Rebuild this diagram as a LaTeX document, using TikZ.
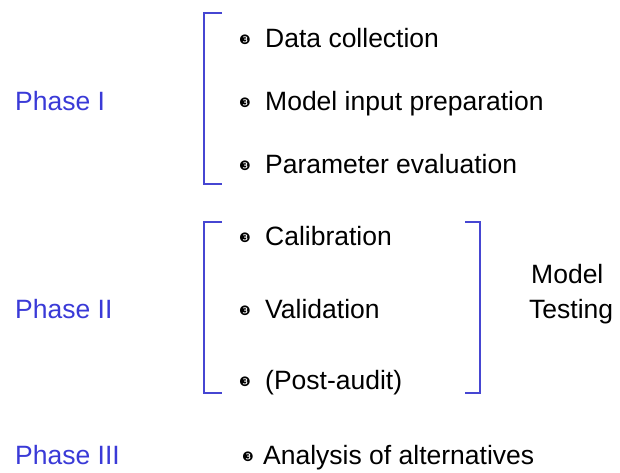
\documentclass[tikz,border=0pt]{standalone}
\usepackage{fontspec}
\setmainfont{Liberation Sans}
\newfontfamily\dingfont{DejaVu Sans}
\definecolor{phaseblue}{RGB}{58,58,215}
\definecolor{brackblue}{RGB}{70,70,210}
\begin{document}
\begin{tikzpicture}[x=1pt,y=-1pt,
  itemtext/.style={anchor=base west,inner sep=0pt,font=\fontsize{26.5}{30}\selectfont},
  phasetext/.style={anchor=base west,inner sep=0pt,text=phaseblue,font=\fontsize{26.5}{30}\selectfont},
  bul/.style={inner sep=0pt,font=\dingfont\fontsize{13}{13}\selectfont},
  brack/.style={draw=brackblue,line width=2.2pt}]
\useasboundingbox (0,0) rectangle (620,472);
% Phase labels
\node[phasetext] (p1) at (15,110) {Phase I};
\node[phasetext] (p2) at (15,318) {Phase II};
\node[phasetext] (p3) at (15,464) {Phase III};
% Phase I items
\node[bul] (b1) at (245,40) {❸};
\node[itemtext] (t1) at (265,47) {Data collection};
\node[bul] (b2) at (245,103) {❸};
\node[itemtext] (t2) at (265,110) {Model input preparation};
\node[bul] (b3) at (245,166) {❸};
\node[itemtext] (t3) at (265,173) {Parameter evaluation};
% Phase II items
\node[bul] (b4) at (245,238) {❸};
\node[itemtext] (t4) at (265,245) {Calibration};
\node[bul] (b5) at (245,311) {❸};
\node[itemtext] (t5) at (265,318) {Validation};
\node[bul] (b6) at (245,382) {❸};
\node[itemtext] (t6) at (265,389) {(Post-audit)};
% Phase III item
\node[bul] (b7) at (248,457) {❸};
\node[itemtext] (t7) at (263,464) {Analysis of alternatives};
% Model testing
\node[itemtext] (m1) at (531,283) {Model};
\node[itemtext] (m2) at (529,318) {Testing};
% Brackets
\draw[brack] (222,13) -- (204,13) -- (204,184) -- (222,184);
\draw[brack] (222,222) -- (204,222) -- (204,393) -- (222,393);
\draw[brack] (465,222) -- (480,222) -- (480,393) -- (465,393);
\end{tikzpicture}
\end{document}
